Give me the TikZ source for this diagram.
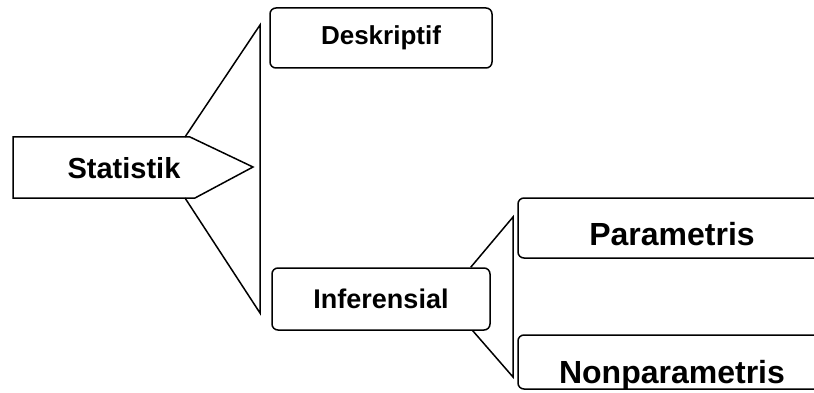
\documentclass[tikz,border=0pt]{standalone}
\usepackage{fontspec}
\setmainfont{Liberation Sans}
\tikzset{
  kotak/.style={draw, line width=1.5pt, rounded corners=6pt, inner sep=0pt, font=\bfseries},
  garis/.style={line width=1.5pt, line join=miter}
}

\begin{document}
\begin{tikzpicture}[x=1pt,y=-1pt]
\useasboundingbox (0,0) rectangle (814,393);
\clip (0,0) rectangle (814,393);
% statistik
\draw[garis] (13,137) -- (190,137) -- (253,167) -- (195,198) -- (13,198) -- cycle;
\node[font=\bfseries\fontsize{29}{29}\selectfont] (stat) at (124,168) {Statistik};
\draw[garis] (185,137) -- (260,25) -- (260,313) -- (185,198);
% cabang
\node[kotak, minimum width=222pt, minimum height=60pt, font=\bfseries\fontsize{26}{26}\selectfont] (desk) at (381,38) {Deskriptif};
\node[kotak, minimum width=218pt, minimum height=62pt, font=\bfseries\fontsize{27}{27}\selectfont] (infer) at (381,299) {Inferensial};
\draw[garis] ([xshift=-20pt]infer.north east) -- (513,217) -- (513,377) -- ([xshift=-18pt]infer.south east);
\node[kotak, minimum width=308pt, minimum height=60pt, text height=34pt, text depth=0pt, font=\bfseries\fontsize{32}{32}\selectfont] (param) at (672,228) {Parametris};
\node[kotak, minimum width=308pt, minimum height=54pt, text height=42pt, text depth=0pt, font=\bfseries\fontsize{32}{32}\selectfont] (nonparam) at (672,362) {Nonparametris};
\end{tikzpicture}
\end{document}
